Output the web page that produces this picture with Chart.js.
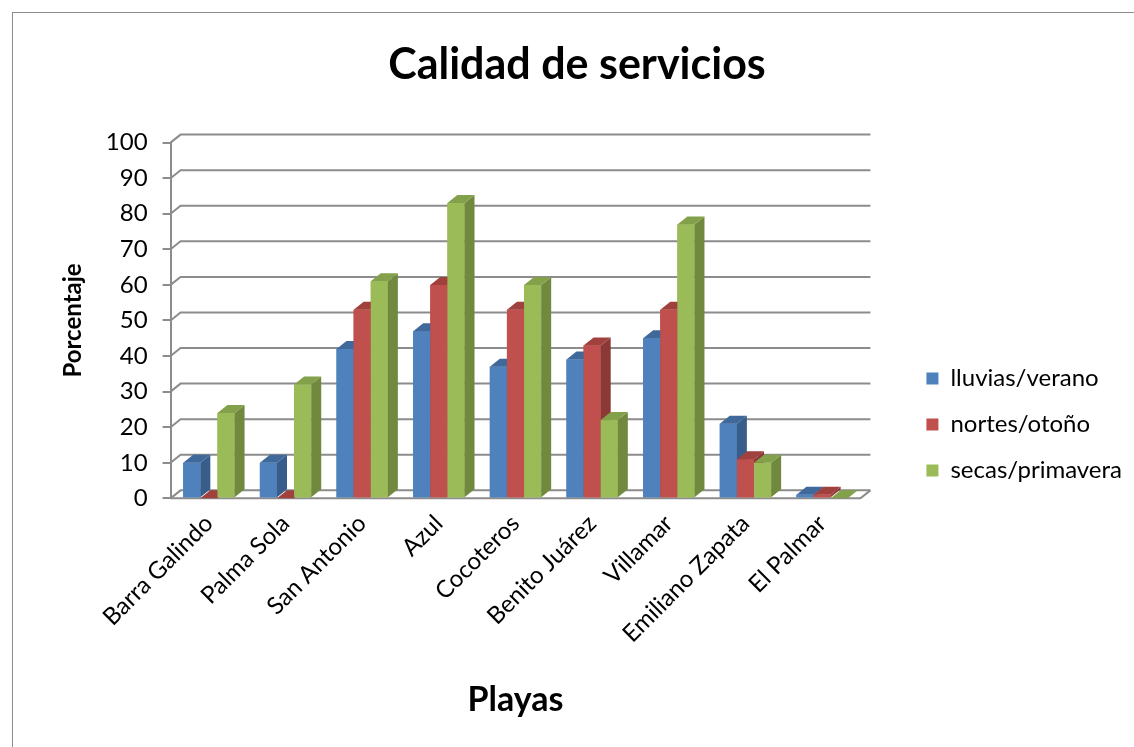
<!DOCTYPE html>
<html>
<head>
<meta charset="utf-8">
<script src="https://cdn.jsdelivr.net/npm/chart.js@4.4.0/dist/chart.umd.min.js"></script>
<style>
html, body { margin: 0; padding: 0; background: #fff; overflow: hidden; }
#box { position: absolute; left: 12px; top: 12px; width: 1124px; height: 737px; border: 1px solid #8c8c8c; box-sizing: border-box; }
</style>
</head>
<body>
<div id="box"><canvas id="chart"></canvas></div>
<script>
const playas = ['Barra Galindo', 'Palma Sola', 'San Antonio', 'Azul', 'Cocoteros', 'Benito Juárez', 'Villamar', 'Emiliano Zapata', 'El Palmar'];
const lluvias = [10, 10, 42, 47, 37, 39, 45, 21, 1];
const nortes = [0, 0, 53, 60, 53, 43, 53, 11, 1];
const secas = [24, 32, 61, 83, 60, 22, 77, 10, 0];

const frontColors = ['#4F81BD', '#C0504D', '#9BBB59'];
const sideColors = ['#385D8A', '#8C3836', '#71893F'];
const topColors = ['#40699B', '#A1413E', '#83A04A'];
const dx = 10, dy = 8; // profundidad del efecto 3D
const fontFamily = 'Lato, "Open Sans", sans-serif';

// pared de fondo, piso y caras laterales de las barras
const bars3d = {
    id: 'bars3d',
    beforeDatasetsDraw(chart) {
        const { ctx, chartArea, scales: { y } } = chart;
        ctx.save();
        ctx.strokeStyle = '#8c8c8c';
        ctx.lineWidth = 2;
        y.ticks.forEach(t => {
            const py = y.getPixelForValue(t.value);
            ctx.beginPath();
            ctx.moveTo(chartArea.left, py);
            ctx.lineTo(chartArea.left + dx, py - dy);
            ctx.lineTo(chartArea.right + dx, py - dy);
            ctx.stroke();
        });
        const base = y.getPixelForValue(0);
        ctx.beginPath();
        ctx.moveTo(chartArea.left, base);
        ctx.lineTo(chartArea.right, base);
        ctx.lineTo(chartArea.right + dx, base - dy);
        ctx.stroke();
        ctx.restore();
    },
    afterDatasetsDraw(chart) {
        const ctx = chart.ctx;
        const metas = chart.data.datasets.map((d, i) => chart.getDatasetMeta(i));
        ctx.save();
        for (let j = 0; j < chart.data.labels.length; j++) {
            metas.forEach((meta, i) => {
                const { x, y, base, width } = meta.data[j].getProps(['x', 'y', 'base', 'width'], true);
                const l = x - width / 2, r = x + width / 2;
                ctx.fillStyle = frontColors[i];
                ctx.fillRect(l, y, width, base - y);
                ctx.fillStyle = sideColors[i];
                ctx.beginPath();
                ctx.moveTo(r, y);
                ctx.lineTo(r + dx, y - dy);
                ctx.lineTo(r + dx, base - dy);
                ctx.lineTo(r, base);
                ctx.closePath();
                ctx.fill();
                ctx.fillStyle = topColors[i];
                ctx.beginPath();
                ctx.moveTo(l, y);
                ctx.lineTo(l + dx, y - dy);
                ctx.lineTo(r + dx, y - dy);
                ctx.lineTo(r, y);
                ctx.closePath();
                ctx.fill();
            });
        }
        ctx.restore();
    }
};

// separa la leyenda del área del gráfico y la baja un poco
const legendGap = {
    id: 'legendGap',
    beforeUpdate(chart) {
        const lg = chart.legend;
        if (lg && !lg._gapPatched) {
            const fit = lg.fit;
            lg.fit = function () { fit.call(this); this.width += 47; };
            lg._gapPatched = true;
        }
    },
    afterUpdate(chart) {
        chart.legend.left += 44;
        chart.legend.top += 116;
    }
};

new Chart(document.getElementById('chart').getContext('2d'), {
    type: 'bar',
    data: {
        labels: playas,
        datasets: [
            { label: 'lluvias/verano', data: lluvias, backgroundColor: frontColors[0], borderWidth: 0 },
            { label: 'nortes/otoño', data: nortes, backgroundColor: frontColors[1], borderWidth: 0 },
            { label: 'secas/primavera', data: secas, backgroundColor: frontColors[2], borderWidth: 0 }
        ]
    },
    options: {
        responsive: true,
        maintainAspectRatio: false,
        animation: false,
        layout: { padding: { left: 6, top: 0, bottom: 28, right: 0 } },
        datasets: { bar: { barPercentage: 1, categoryPercentage: 0.67 } },
        plugins: {
            title: {
                display: true,
                text: 'Calidad de servicios',
                color: '#000',
                font: { family: fontFamily, size: 43, weight: 'bold' },
                padding: { top: 26, bottom: 52 }
            },
            legend: {
                position: 'right',
                labels: {
                    color: '#000',
                    boxWidth: 12,
                    boxHeight: 12,
                    padding: 22,
                    font: { family: fontFamily, size: 24 }
                }
            },
            tooltip: { enabled: false }
        },
        scales: {
            x: {
                grid: { display: false },
                border: { display: false },
                ticks: {
                    color: '#000',
                    minRotation: 45,
                    maxRotation: 45,
                    font: { family: fontFamily, size: 24 }
                },
                title: {
                    display: true,
                    text: 'Playas',
                    color: '#000',
                    font: { family: fontFamily, size: 34, weight: 'bold' },
                    padding: { top: 28, bottom: 0 }
                }
            },
            y: {
                min: 0,
                max: 100,
                ticks: {
                    stepSize: 10,
                    color: '#000',
                    padding: 15,
                    font: { family: fontFamily, size: 24 }
                },
                grid: { drawOnChartArea: false, tickLength: 8, color: '#8c8c8c', lineWidth: 2 },
                border: { display: true, color: '#8c8c8c', width: 2 },
                title: {
                    display: true,
                    text: 'Porcentaje',
                    color: '#000',
                    font: { family: fontFamily, size: 24, weight: 'bold' },
                    padding: { top: 40, bottom: 3 }
                }
            }
        }
    },
    plugins: [bars3d, legendGap]
});
</script>
</body>
</html>
